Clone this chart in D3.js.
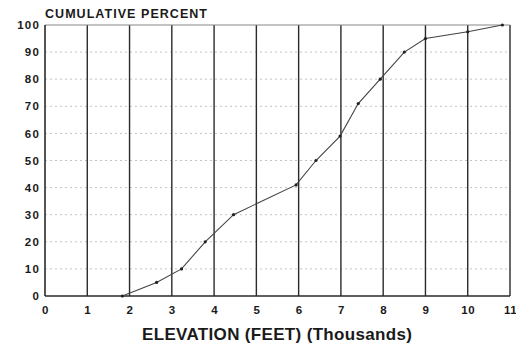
<!DOCTYPE html>
<html>
<head>
<meta charset="utf-8">
<script src="https://cdn.jsdelivr.net/npm/d3@7"></script>
<style>
  body { margin: 0; background: #fff; }
  svg { display: block; font-family: "Liberation Sans", Arial, sans-serif; }
  .tick text { font-weight: bold; fill: #1a1a1a; }
</style>
</head>
<body>
<figure style="margin:0"></figure>
<script>
// elevation in thousands of feet vs cumulative percent
const elevation = [1.83, 2.64, 3.23, 3.79, 4.46, 5.94, 6.41, 6.98, 7.41, 7.93, 8.5, 9.0, 10.0, 10.82];
const cumPercent = [0, 5, 10, 20, 30, 41, 50, 59, 71, 80, 90, 95, 97.5, 100];
const xTicks = d3.range(0, 12);
const yTicks = d3.range(0, 101, 10);

const width = 516;
const height = 349;
const margin = { top: 25, right: 6, bottom: 53, left: 45 };

const svg = d3.select("figure").append("svg")
  .attr("width", width).attr("height", height);

const x = d3.scaleLinear().domain([0, 11]).range([margin.left, width - margin.right]);
const y = d3.scaleLinear().domain([0, 100]).range([height - margin.bottom, margin.top]);

// dotted horizontal grid
svg.append("g")
  .selectAll("line")
  .data(yTicks.filter((d) => d > 0 && d < 100))
  .enter()
  .append("line")
  .attr("x1", x(0)).attr("x2", x(11))
  .attr("y1", (d) => y(d)).attr("y2", (d) => y(d))
  .style("stroke", "#c4c4c4")
  .style("stroke-width", 1)
  .style("stroke-dasharray", "2,3");

// solid vertical grid
svg.append("g")
  .selectAll("line")
  .data(xTicks.filter((d) => d > 0))
  .enter()
  .append("line")
  .attr("x1", (d) => x(d)).attr("x2", (d) => x(d))
  .attr("y1", y(0)).attr("y2", y(100))
  .style("stroke", "#2a2a2a")
  .style("stroke-width", 1.4);

// frame
svg.append("line")
  .attr("x1", x(0)).attr("x2", x(11))
  .attr("y1", y(100)).attr("y2", y(100))
  .style("stroke", "#888").style("stroke-width", 1.2);
svg.append("line")
  .attr("x1", x(0)).attr("x2", x(0))
  .attr("y1", y(0)).attr("y2", y(100))
  .style("stroke", "#2a2a2a").style("stroke-width", 1.6);
svg.append("line")
  .attr("x1", x(0)).attr("x2", x(11))
  .attr("y1", y(0)).attr("y2", y(0))
  .style("stroke", "#2a2a2a").style("stroke-width", 1.6);

const xAxis = d3.axisBottom(x).tickValues(xTicks).tickSize(0).tickPadding(10);
svg.append("g")
  .attr("transform", `translate(0, ${y(0)})`)
  .call(xAxis)
  .call((g) => g.select(".domain").remove())
  .selectAll("text")
  .style("font-size", "11.5px")
  .style("letter-spacing", "0.5px");

const yAxis = d3.axisLeft(y).tickValues(yTicks).tickSize(0).tickPadding(5);
svg.append("g")
  .attr("transform", `translate(${x(0)}, 0)`)
  .call(yAxis)
  .call((g) => g.select(".domain").remove())
  .selectAll("text")
  .style("font-size", "11.5px")
  .style("letter-spacing", "1.2px");

// curve
const pts = elevation.map((e, i) => [e, cumPercent[i]]);
svg.append("path")
  .datum(pts)
  .attr("d", d3.line().x((d) => x(d[0])).y((d) => y(d[1])))
  .style("fill", "none")
  .style("stroke", "#444")
  .style("stroke-width", 1.1);

svg.append("g")
  .selectAll("circle")
  .data(pts)
  .enter()
  .append("circle")
  .attr("cx", (d) => x(d[0]))
  .attr("cy", (d) => y(d[1]))
  .attr("r", 1.6)
  .style("fill", "#222");

svg.append("text")
  .attr("x", 45)
  .attr("y", 18)
  .attr("textLength", 162)
  .style("font-size", "12.5px")
  .style("font-weight", "bold")
  .style("fill", "#1a1a1a")
  .text("CUMULATIVE PERCENT");

svg.append("text")
  .attr("x", 142)
  .attr("y", 340)
  .attr("textLength", 270)
  .style("font-size", "17px")
  .style("font-weight", "bold")
  .style("fill", "#1a1a1a")
  .text("ELEVATION (FEET) (Thousands)");
</script>
</body>
</html>
